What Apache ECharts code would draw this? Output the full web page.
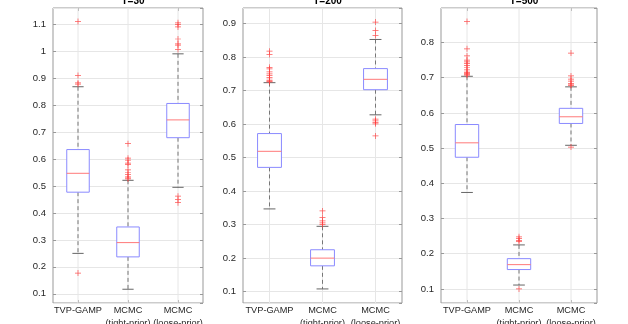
<!DOCTYPE html>
<html lang="en">

<head>
  <meta charset="UTF-8">
  <title>boxplot T=30 / T=200 / T=500</title>
  <script src="https://cdn.jsdelivr.net/npm/echarts@6/dist/echarts.min.js"></script>
  <style>
    html, body { margin: 0; padding: 0; background: #fff; }
    #echarts { width: 628px; height: 324px; }
  </style>
</head>

<body>
  <div id="echarts"></div>
</body>

</html>
<script>
  // categories and panel titles
  const categories = ['TVP-GAMP', 'MCMC\n(tight-prior)', 'MCMC\n(loose-prior)'];
  const titles = ['T=30', 'T=200', 'T=500'];

  // per box: [lower whisker, q1, median, q3, upper whisker]
  const boxesT30 = [
    [0.250, 0.477, 0.547, 0.635, 0.868],
    [0.117, 0.237, 0.290, 0.348, 0.521],
    [0.495, 0.679, 0.745, 0.806, 0.990]
  ];
  const boxesT200 = [
    [0.347, 0.471, 0.519, 0.572, 0.724],
    [0.108, 0.177, 0.200, 0.225, 0.295],
    [0.628, 0.703, 0.734, 0.766, 0.853]
  ];
  const boxesT500 = [
    [0.374, 0.474, 0.515, 0.567, 0.704],
    [0.111, 0.155, 0.169, 0.186, 0.225],
    [0.508, 0.570, 0.589, 0.613, 0.674]
  ];

  // outliers per box
  const outliersT30 = [
    [1.110, 0.910, 0.882, 0.878, 0.177],
    [0.657, 0.603, 0.596, 0.585, 0.580, 0.560, 0.550, 0.542, 0.536, 0.530, 0.526],
    [1.105, 1.098, 1.090, 1.045, 1.027, 1.022, 1.006, 0.462, 0.450, 0.438]
  ];
  const outliersT200 = [
    [0.818, 0.808, 0.770, 0.765, 0.756, 0.750, 0.745, 0.740, 0.735, 0.731, 0.728, 0.726],
    [0.341, 0.322, 0.311, 0.305, 0.300],
    [0.905, 0.880, 0.865, 0.615, 0.610, 0.605, 0.601, 0.565]
  ];
  const outliersT500 = [
    [0.860, 0.782, 0.762, 0.750, 0.745, 0.740, 0.735, 0.729, 0.724, 0.719, 0.715, 0.712, 0.709, 0.707],
    [0.248, 0.243, 0.238, 0.235, 0.100],
    [0.770, 0.705, 0.696, 0.690, 0.684, 0.680, 0.678, 0.503]
  ];

  // y range of each panel
  const yMin = [0.066, 0.066, 0.060];
  const yMax = [1.160, 0.947, 0.898];

  const allBoxes = [boxesT30, boxesT200, boxesT500];
  const allOutliers = [outliersT30, outliersT200, outliersT500];

  const font = 'Liberation Sans, Arial, sans-serif';
  const grids = [
    { left: 53, right: 425, top: 8, bottom: 21 },
    { left: 243, right: 226, top: 8, bottom: 21 },
    { left: 441, right: 31, top: 8, bottom: 21 }
  ];

  const plusPath = 'path://M-0.12,-1H0.12V-0.12H1V0.12H0.12V1H-0.12V0.12H-1V-0.12H-0.12Z';

  function renderBox(params, api) {
    const c = api.value(0);
    const lo = api.coord([c, api.value(1)]);
    const q1 = api.coord([c, api.value(2)]);
    const md = api.coord([c, api.value(3)]);
    const q3 = api.coord([c, api.value(4)]);
    const hi = api.coord([c, api.value(5)]);
    const cs = params.coordSys;
    const x = q1[0];
    const bw = api.size([1, 0])[0] * 0.45;
    const cw = bw / 2;
    const dash = { stroke: '#777', lineWidth: 1, lineDash: [4, 3] };
    return {
      type: 'group',
      children: [
        { type: 'line', shape: { x1: x, y1: cs.y, x2: x, y2: cs.y + cs.height }, style: { stroke: '#e6e6e6', lineWidth: 1 }, z2: 0 },
        { type: 'line', shape: { x1: x, y1: hi[1], x2: x, y2: q3[1] }, style: dash, z2: 1 },
        { type: 'line', shape: { x1: x, y1: q1[1], x2: x, y2: lo[1] }, style: dash, z2: 1 },
        { type: 'line', shape: { x1: x - cw / 2, y1: hi[1], x2: x + cw / 2, y2: hi[1] }, style: { stroke: '#666', lineWidth: 1 }, z2: 2 },
        { type: 'line', shape: { x1: x - cw / 2, y1: lo[1], x2: x + cw / 2, y2: lo[1] }, style: { stroke: '#666', lineWidth: 1 }, z2: 2 },
        { type: 'rect', shape: { x: x - bw / 2, y: q3[1], width: bw, height: q1[1] - q3[1] }, style: { fill: '#fff', stroke: '#8a8aff', lineWidth: 1 }, z2: 3 },
        { type: 'line', shape: { x1: x - bw / 2, y1: md[1], x2: x + bw / 2, y2: md[1] }, style: { stroke: '#ff7a7a', lineWidth: 1 }, z2: 4 }
      ]
    };
  }

  let myECharts = echarts.init(document.getElementById('echarts'));

  const xAxis = [], yAxis = [], series = [], title = [];
  for (let i = 0; i < 3; i++) {
    const g = grids[i];
    title.push({
      text: titles[i],
      left: g.left + (628 - g.left - g.right) / 2,
      textAlign: 'center',
      top: -9,
      textStyle: { fontFamily: font, fontSize: 10, fontWeight: 'bold', color: '#000' }
    });
    xAxis.push({
      gridIndex: i, type: 'category', data: categories, position: 'bottom',
      axisLine: { show: false },
      axisTick: { show: true, inside: true, alignWithLabel: true, length: 3, lineStyle: { color: '#999' } },
      axisLabel: { margin: 1.5, fontFamily: font, fontSize: 9.2, color: '#262626', lineHeight: 12.5, interval: 0 },
      splitLine: { show: false }
    });
    xAxis.push({
      gridIndex: i, type: 'category', data: categories, position: 'top',
      axisLine: { show: false },
      axisTick: { show: true, inside: true, alignWithLabel: true, length: 3, lineStyle: { color: '#999' } },
      axisLabel: { show: false },
      splitLine: { show: false }
    });
    const yBase = {
      gridIndex: i, type: 'value', min: yMin[i], max: yMax[i],
      minInterval: 0.1, maxInterval: 0.1, splitNumber: 10,
      axisLine: { show: false },
      axisTick: { show: true, inside: true, length: 3, lineStyle: { color: '#999' } }
    };
    yAxis.push(Object.assign({}, yBase, {
      position: 'left',
      axisLabel: {
        margin: 7, fontFamily: font, fontSize: 9.5, color: '#262626',
        showMinLabel: false, showMaxLabel: false,
        formatter: v => String(Math.round(v * 10) / 10)
      },
      splitLine: { show: true, lineStyle: { color: '#e6e6e6', width: 1 } }
    }));
    yAxis.push(Object.assign({}, yBase, {
      position: 'right',
      axisLabel: { show: false },
      splitLine: { show: false }
    }));

    series.push({
      type: 'custom',
      xAxisIndex: 2 * i, yAxisIndex: 2 * i,
      renderItem: renderBox,
      encode: { x: 0, y: [1, 2, 3, 4, 5] },
      data: allBoxes[i].map((b, k) => [k].concat(b)),
      z: 2,
      silent: true
    });

    const pts = [];
    allOutliers[i].forEach((list, k) => list.forEach(v => pts.push([k, v])));
    series.push({
      type: 'scatter',
      xAxisIndex: 2 * i, yAxisIndex: 2 * i,
      symbol: plusPath,
      symbolSize: 6,
      itemStyle: { color: '#ff3b3b', opacity: 0.85 },
      data: pts,
      z: 3,
      silent: true
    });
  }

  myECharts.setOption({
    animation: false,
    title: title,
    grid: grids.map(g => Object.assign({
      show: true, borderColor: '#999', borderWidth: 1, backgroundColor: '#fff',
      outerBoundsMode: 'none', containLabel: false
    }, g)),
    xAxis: xAxis,
    yAxis: yAxis,
    series: series
  });
</script>
